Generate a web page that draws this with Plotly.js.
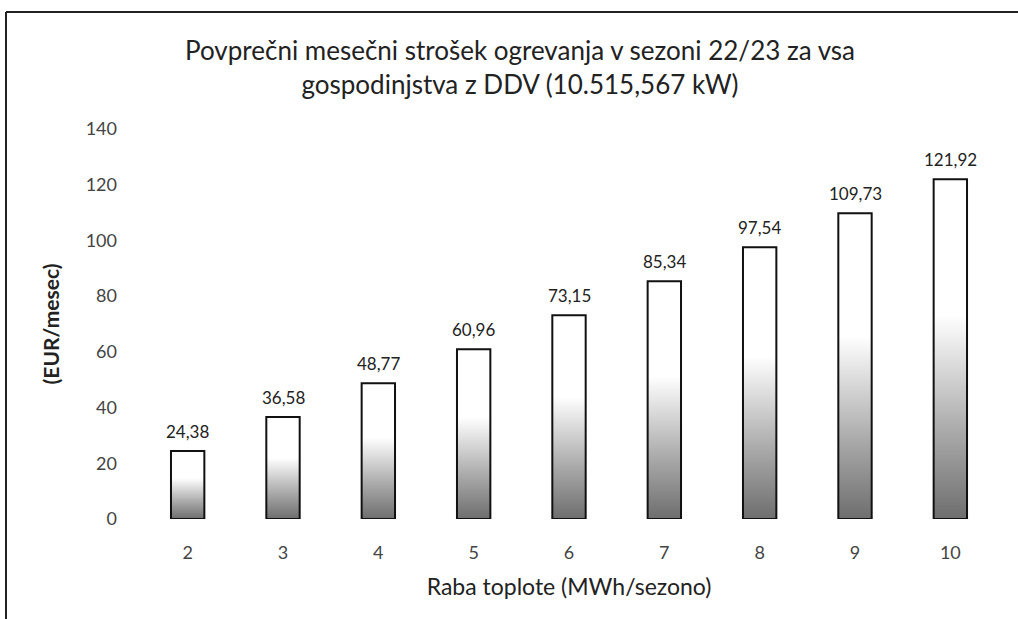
<!DOCTYPE html>
<html>
<head>
<meta charset="utf-8">
<script src="https://cdn.plot.ly/plotly-3.0.1.min.js"></script>
<style>html,body{margin:0;padding:0;background:#fff;}#chart{width:1018px;height:619px;}</style>
</head>
<body>
<div id="chart"></div>
<script>
// Data
const categories = [2, 3, 4, 5, 6, 7, 8, 9, 10];
const values = [24.38, 36.58, 48.77, 60.96, 73.15, 85.34, 97.54, 109.73, 121.92];
const valueLabels = ["24,38", "36,58", "48,77", "60,96", "73,15", "85,34", "97,54", "109,73", "121,92"];
const tickLabels = ["2", "3", "4", "5", "6", "7", "8", "9", "10"];
const yTicks = [0, 20, 40, 60, 80, 100, 120, 140];

const titleText = "Povprečni mesečni strošek ogrevanja v sezoni 22/23 za vsa<br>gospodinjstva z DDV (10.515,567 kW)";
const xTitle = "Raba toplote (MWh/sezono)";
const yTitle = "(EUR/mesec)";

const FONT = "Lato, 'Open Sans', sans-serif";
const halfW = 0.175;

// plot area geometry (px)
const W = 1018, H = 619;
const M = {l: 140, r: 20, t: 129, b: 100};
const pw = W - M.l - M.r, ph = H - M.t - M.b;
const px = x => (x - M.l) / pw;
const py = y => (H - M.b - y) / ph;

const traces = categories.map((c, i) => ({
  type: 'scatter',
  mode: 'lines',
  x: [c - halfW, c + halfW, c + halfW, c - halfW, c - halfW],
  y: [0, 0, values[i], values[i], 0],
  fill: 'toself',
  fillgradient: {
    type: 'vertical',
    colorscale: [[0, '#6e6e6e'], [0.25, '#a8a8a8'], [0.6, '#ffffff'], [1, '#ffffff']]
  },
  line: {color: '#111', width: 2},
  hoverinfo: 'skip',
  showlegend: false
}));

const annotations = categories.map((c, i) => ({
  x: c, y: values[i], xref: 'x', yref: 'y',
  text: valueLabels[i], showarrow: false,
  yanchor: 'bottom', yshift: 7,
  font: {family: FONT, size: 17, color: '#222'}
}));

const layout = {
  width: W, height: H,
  margin: M,
  paper_bgcolor: '#fff', plot_bgcolor: '#fff',
  showlegend: false,
  title: {
    text: titleText,
    x: 520 / W, xref: 'container', xanchor: 'center',
    y: 1 - 60 / H, yref: 'container', yanchor: 'middle',
    font: {family: FONT, size: 26, color: '#222'}
  },
  xaxis: {
    range: [1.5, 10.5],
    tickmode: 'array', tickvals: categories, ticktext: tickLabels,
    showgrid: false, zeroline: false, showline: false, ticks: '',
    ticklabelstandoff: 21,
    tickfont: {family: FONT, size: 18, color: '#444'},
    title: {text: xTitle, standoff: 16, font: {family: FONT, size: 23, color: '#222'}},
    fixedrange: true
  },
  yaxis: {
    range: [0, 140],
    tickmode: 'array', tickvals: yTicks,
    showgrid: false, zeroline: false, showline: false, ticks: '',
    ticklabelstandoff: 22,
    tickfont: {family: FONT, size: 18, color: '#444'},
    title: {text: yTitle, standoff: 20, font: {family: FONT, size: 21, color: '#222', weight: 'bold'}},
    fixedrange: true
  },
  annotations: annotations,
  shapes: [
    {type: 'line', xref: 'paper', yref: 'paper', x0: px(6), x1: px(1018), y0: py(12), y1: py(12), line: {color: '#222', width: 2}},
    {type: 'line', xref: 'paper', yref: 'paper', x0: px(6), x1: px(6), y0: py(12), y1: py(619), line: {color: '#222', width: 2}}
  ]
};

Plotly.newPlot('chart', traces, layout, {displayModeBar: false, staticPlot: true});
</script>
</body>
</html>
